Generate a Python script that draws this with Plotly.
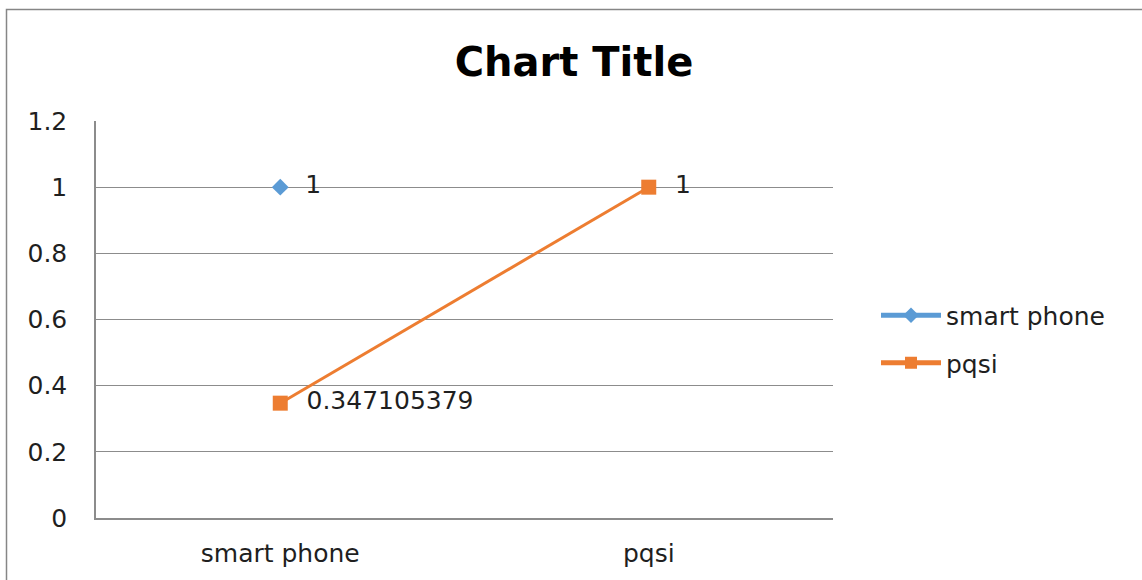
import plotly.graph_objects as go

categories = ["smart phone", "pqsi"]
smart_phone = [1, None]
pqsi = [0.347105379, 1]
y_ticks = [0, 0.2, 0.4, 0.6, 0.8, 1, 1.2]
y_tick_labels = ["0", "0.2", "0.4", "0.6", "0.8", "1", "1.2"]

FONT = "DejaVu Sans"
TEXT = "#1f1f1f"
GRID = "#8c8c8c"
FS = 25


def labels(values):
    return ["  " + str(v) if v is not None else "" for v in values]


fig = go.Figure()
fig.add_trace(go.Scatter(
    x=categories, y=smart_phone, name="smart phone", legendgroup="a",
    mode="lines+markers+text",
    line=dict(color="#5B9BD5", width=3),
    marker=dict(symbol="diamond", size=13, color="#5B9BD5"),
    text=labels(smart_phone), textposition="middle right",
    textfont=dict(family=FONT, size=FS, color=TEXT),
    cliponaxis=False,
))
fig.add_trace(go.Scatter(
    x=categories, y=pqsi, name="pqsi", legendgroup="b",
    mode="lines+markers+text",
    line=dict(color="#ED7D31", width=3),
    marker=dict(symbol="square", size=15, color="#ED7D31"),
    text=labels(pqsi), textposition="middle right",
    textfont=dict(family=FONT, size=FS, color=TEXT),
    cliponaxis=False,
))

L, R, T, B = 96, 309, 121, 62
pw, ph = 1142 - L - R, 580 - T - B

fig.update_layout(
    width=1142, height=580,
    margin=dict(l=L, r=R, t=T, b=B, autoexpand=False),
    paper_bgcolor="white", plot_bgcolor="white",
    font=dict(family=FONT, size=FS, color=TEXT),
    title=dict(text="<b>Chart Title</b>", x=(574 - L) / pw, xref="paper", xanchor="center",
               y=1 - 62 / 580, yanchor="middle",
               font=dict(family=FONT, size=40, color="black")),
    showlegend=True,
    legend=dict(x=(876 - L) / pw, xanchor="left", y=1 - (339 - T) / ph,
                yanchor="middle", font=dict(family=FONT, size=FS, color=TEXT),
                itemwidth=60, itemsizing="constant", tracegroupgap=12,
                bgcolor="rgba(0,0,0,0)"),
    xaxis=dict(type="category", range=[-0.5, 1.5], showgrid=False,
               showline=True, linecolor=GRID, linewidth=1.5, automargin=False,
               ticks="", ticklabelstandoff=12, zeroline=False,
               tickfont=dict(family=FONT, size=FS, color=TEXT)),
    yaxis=dict(range=[0, 1.2], tickvals=y_ticks, ticktext=y_tick_labels,
               showgrid=True, gridcolor=GRID, gridwidth=1.2, automargin=False,
               showline=True, linecolor=GRID, linewidth=1.5,
               zeroline=False, ticks="", ticklabelstandoff=22,
               tickfont=dict(family=FONT, size=FS, color=TEXT)),
    shapes=[dict(type="rect", xref="paper", yref="paper",
                 x0=(6.5 - L) / pw, x1=3.0,
                 y0=-1.0, y1=1 + (T - 9.5) / ph,
                 line=dict(color="#868686", width=1.5), layer="below")],
)

fig.write_html("out.html")
